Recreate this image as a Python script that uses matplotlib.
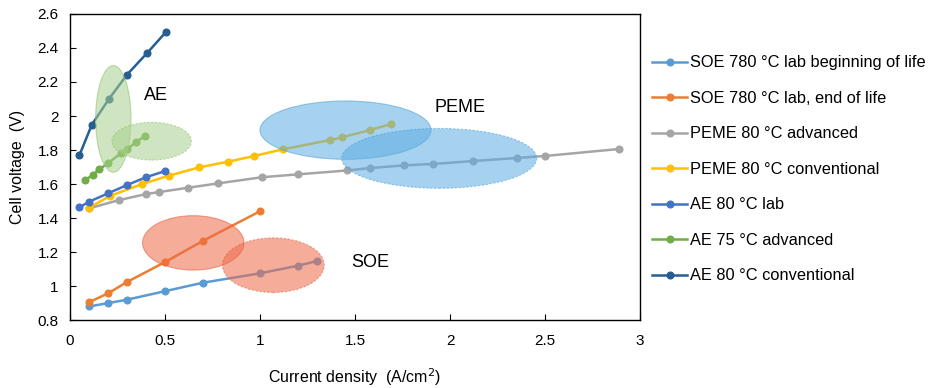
import matplotlib
matplotlib.use("Agg")
import matplotlib.pyplot as plt
from matplotlib.patches import Ellipse

plt.rcParams['font.family'] = ['Liberation Sans', 'DejaVu Sans']

# ---- data ----
soe_bol_x = [0.1, 0.2, 0.3, 0.5, 0.7, 1.0, 1.2, 1.3]
soe_bol_y = [0.88, 0.90, 0.92, 0.97, 1.02, 1.075, 1.12, 1.147]

soe_eol_x = [0.1, 0.2, 0.3, 0.5, 0.7, 1.0]
soe_eol_y = [0.905, 0.957, 1.024, 1.141, 1.266, 1.44]

peme_adv_x = [0.1, 0.26, 0.4, 0.47, 0.62, 0.78, 1.01, 1.2, 1.46, 1.58, 1.76, 1.91, 2.12, 2.35, 2.5, 2.89]
peme_adv_y = [1.457, 1.506, 1.541, 1.553, 1.578, 1.604, 1.64, 1.657, 1.68, 1.694, 1.71, 1.718, 1.735, 1.753, 1.765, 1.806]

peme_conv_x = [0.1, 0.21, 0.38, 0.52, 0.68, 0.83, 0.97, 1.12, 1.37, 1.43, 1.58, 1.69]
peme_conv_y = [1.46, 1.53, 1.60, 1.649, 1.698, 1.731, 1.765, 1.804, 1.859, 1.874, 1.918, 1.953]

ae_lab_x = [0.05, 0.1, 0.2, 0.3, 0.4, 0.5]
ae_lab_y = [1.463, 1.496, 1.545, 1.594, 1.64, 1.676]

ae_adv_x = [0.08, 0.12, 0.155, 0.2, 0.267, 0.3, 0.35, 0.395]
ae_adv_y = [1.622, 1.655, 1.686, 1.723, 1.78, 1.804, 1.849, 1.882]

ae_conv_x = [0.05, 0.115, 0.205, 0.3, 0.405, 0.505]
ae_conv_y = [1.77, 1.949, 2.10, 2.243, 2.369, 2.494]

series_labels = ["SOE 780 \u00b0C lab beginning of life",
                 "SOE 780 \u00b0C lab, end of life",
                 "PEME 80 \u00b0C advanced",
                 "PEME 80 \u00b0C conventional",
                 "AE 80 \u00b0C lab",
                 "AE 75 \u00b0C advanced",
                 "AE 80 \u00b0C conventional"]

# ellipse regions: (center x, center y, width, height)
ae_regions = [(0.228, 1.983, 0.186, 0.627), (0.43, 1.852, 0.418, 0.222)]
peme_regions = [(1.45, 1.917, 0.90, 0.343), (1.943, 1.751, 1.026, 0.352)]
soe_regions = [(0.649, 1.254, 0.534, 0.32), (1.07, 1.123, 0.535, 0.321)]

region_labels = ["AE", "PEME", "SOE"]
region_label_pos = [(0.45, 2.12), (2.05, 2.05), (1.58, 1.14)]

x_ticks = [0, 0.5, 1, 1.5, 2, 2.5, 3]
y_ticks = [0.8, 1.0, 1.2, 1.4, 1.6, 1.8, 2.0, 2.2, 2.4, 2.6]

# ---- plot ----
fig = plt.figure(figsize=(9.33, 3.88), dpi=100)
ax = fig.add_axes([0.075, 0.175, 0.611, 0.789])

colors = ['#5B9BD5', '#ED7D31', '#A5A5A5', '#FFC000', '#4472C4', '#70AD47', '#255E91']
all_x = [soe_bol_x, soe_eol_x, peme_adv_x, peme_conv_x, ae_lab_x, ae_adv_x, ae_conv_x]
all_y = [soe_bol_y, soe_eol_y, peme_adv_y, peme_conv_y, ae_lab_y, ae_adv_y, ae_conv_y]

for xs, ys, c, lab in zip(all_x, all_y, colors, series_labels):
    ax.plot(xs, ys, color=c, lw=1.8, marker='o', ms=4.8, label=lab, zorder=2)

def add_regions(regs, face, edge):
    for i, (cx, cy, w, h) in enumerate(regs):
        e = Ellipse((cx, cy), w, h, facecolor=face, edgecolor=edge, lw=0.8,
                    linestyle='-' if i == 0 else (0, (2, 1.5)), alpha=0.55, zorder=3)
        ax.add_patch(e)

add_regions(ae_regions, '#A9D18E', '#8CC16A')
add_regions(peme_regions, '#5DADE2', '#4A9FD8')
add_regions(soe_regions, '#EE6A48', '#E85A38')

for t, (px, py) in zip(region_labels, region_label_pos):
    ax.text(px, py, t, fontsize=13, ha='center', va='center', color='black', zorder=4)

ax.set_xlim(0, 3)
ax.set_ylim(0.8, 2.6)
ax.set_xticks(x_ticks)
ax.set_yticks(y_ticks)
ax.set_xticklabels([f"{v:g}" for v in x_ticks])
ax.set_yticklabels([f"{v:g}" for v in y_ticks])
ax.tick_params(direction='in', length=4, width=0.8, labelsize=11)
ax.tick_params(axis='x', pad=10)
ax.tick_params(axis='y', pad=8)
for s in ax.spines.values():
    s.set_linewidth(1.0)
    s.set_color('black')

ax.set_xlabel("Current density  (A/cm$^2$)", fontsize=11.5, labelpad=13)
ax.set_ylabel("Cell voltage  (V)", fontsize=11.5, labelpad=9)

fig.legend(loc='upper left', bbox_to_anchor=(0.692, 0.874), frameon=False,
           fontsize=11.8, labelspacing=1.25, handlelength=2.13, handletextpad=0.15,
           borderaxespad=0)

fig.savefig("out.png", dpi=100)
